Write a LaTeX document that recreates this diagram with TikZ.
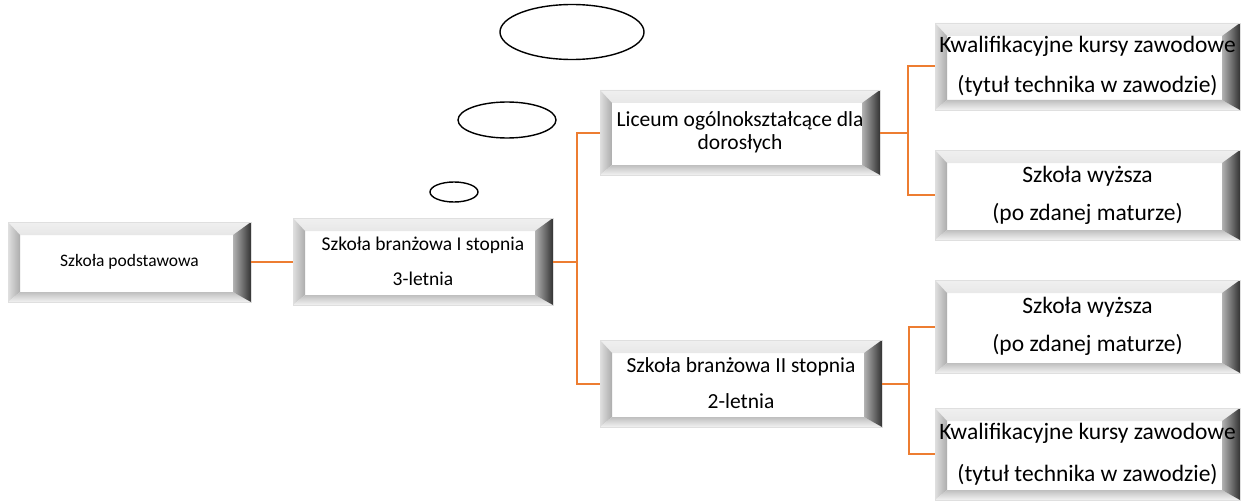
\documentclass[tikz,border=0pt]{standalone}
\usepackage{fontspec}
\setmainfont{Carlito}
\usetikzlibrary{shapes.geometric}
\definecolor{conn}{HTML}{ED7D31}
\tikzset{
  btn/.style={rectangle, inner sep=0pt, align=center, fill=white, draw=gray!25, line width=0.6pt,
    path picture={
      \shade[top color=gray!12, bottom color=gray!55]
        (path picture bounding box.north west) -- (path picture bounding box.north east)
        -- ([xshift=-18pt,yshift=-13pt]path picture bounding box.north east)
        -- ([xshift=12pt,yshift=-13pt]path picture bounding box.north west) -- cycle;
      \shade[left color=gray!25, right color=gray!65]
        (path picture bounding box.north west)
        -- ([xshift=12pt,yshift=-13pt]path picture bounding box.north west)
        -- ([xshift=12pt,yshift=10pt]path picture bounding box.south west)
        -- (path picture bounding box.south west) -- cycle;
      \shade[top color=gray!50, bottom color=gray!10]
        (path picture bounding box.south west)
        -- ([xshift=12pt,yshift=10pt]path picture bounding box.south west)
        -- ([xshift=-18pt,yshift=10pt]path picture bounding box.south east)
        -- (path picture bounding box.south east) -- cycle;
      \shade[left color=gray!60, right color=black!80]
        (path picture bounding box.north east)
        -- ([xshift=-18pt,yshift=-13pt]path picture bounding box.north east)
        -- ([xshift=-18pt,yshift=10pt]path picture bounding box.south east)
        -- (path picture bounding box.south east) -- cycle;
    }},
  link/.style={draw=conn, line width=2pt},
  bubble/.style={ellipse, draw=black, line width=1.4pt, inner sep=0pt}
}
\begin{document}
\begin{tikzpicture}[x=1pt, y=-1pt]
\useasboundingbox (0,0) rectangle (1254,503);
% bubbles
\node[bubble, minimum width=144pt, minimum height=55pt] (e1) at (572,32) {};
\node[bubble, minimum width=98pt, minimum height=36pt] (e2) at (507,120) {};
\node[bubble, minimum width=48pt, minimum height=20pt] (e3) at (454,192) {};
% boxes
\node[btn, minimum width=243pt, minimum height=80pt, font=\fontsize{17.5}{20}\selectfont] (b1) at (129.5,262) {Szkoła podstawowa};
\node[btn, minimum width=260pt, minimum height=87pt, font=\fontsize{19.5}{35}\selectfont] (b2) at (423,261.5) {Szkoła branżowa I stopnia\\3-letnia};
\node[btn, minimum width=280pt, minimum height=85pt, font=\fontsize{21.5}{23}\selectfont] (b3) at (740,132.5) {Liceum ogólnokształcące dla\\dorosłych};
\node[btn, minimum width=305pt, minimum height=87pt, font=\fontsize{23.5}{40}\selectfont] (b4) at (1087.5,66.5) {Kwalifikacyjne kursy zawodowe\\(tytuł technika w zawodzie)};
\node[btn, minimum width=305pt, minimum height=90pt, font=\fontsize{23.5}{38}\selectfont] (b5) at (1087.5,195) {Szkoła wyższa\\(po zdanej maturze)};
\node[btn, minimum width=282pt, minimum height=87pt, font=\fontsize{21.5}{36}\selectfont] (b6) at (741,383.5) {Szkoła branżowa II stopnia\\2-letnia};
\node[btn, minimum width=305pt, minimum height=93pt, font=\fontsize{23.5}{38}\selectfont] (b7) at (1087.5,326.5) {Szkoła wyższa\\(po zdanej maturze)};
\node[btn, minimum width=305pt, minimum height=92pt, font=\fontsize{23.5}{42}\selectfont] (b8) at (1087.5,454) {Kwalifikacyjne kursy zawodowe\\(tytuł technika w zawodzie)};
% connectors
\draw[link] (b1.east) -- (b1.east -| b2.west);
\draw[link] (b2.east) -- ++(24,0) coordinate (j1);
\draw[link] (j1) |- (b3.west);
\draw[link] (j1) |- (b6.west);
\draw[link] (b3.east) -- ++(28,0) coordinate (j2);
\draw[link] (j2) |- (b4.west);
\draw[link] (j2) |- (b5.west);
\draw[link] (b6.east) -- ++(27,0) coordinate (j3);
\draw[link] (j3) |- (b7.west);
\draw[link] (j3) |- (b8.west);
\end{tikzpicture}
\end{document}
